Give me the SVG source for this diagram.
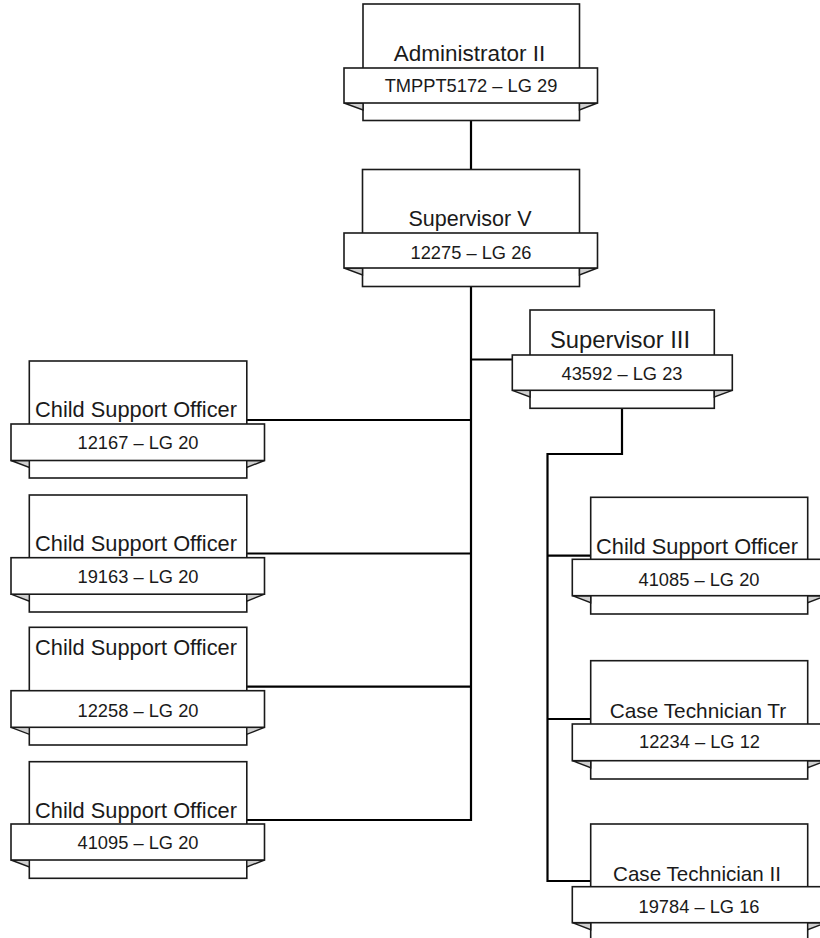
<svg xmlns="http://www.w3.org/2000/svg" width="820" height="938" viewBox="0 0 820 938">
<style>
.bg{fill:#ffffff}
.box{fill:#ffffff;stroke:#1a1a1a;stroke-width:1.6}
.ban{fill:#ffffff;stroke:#1a1a1a;stroke-width:1.6}
.fold{fill:#d0d0d0;stroke:#1a1a1a;stroke-width:1.4;stroke-linejoin:miter}
.t{font-family:"Liberation Sans",Arial,sans-serif;font-size:21.8px;fill:#1a1a1a;text-anchor:middle}
.s{font-family:"Liberation Sans",Arial,sans-serif;font-size:18.3px;fill:#1a1a1a;text-anchor:middle}
.c{fill:none;stroke:#000000;stroke-width:2.2}
</style>
<rect class="bg" x="0" y="0" width="820" height="938"/>
<g id="connectors">
<path class="c" d="M471,120.5 V169.5"/>
<path class="c" d="M471,286.7 V821"/>
<path class="c" d="M471,359.5 H512.3"/>
<path class="c" d="M471,420 H246.8"/>
<path class="c" d="M471,553.5 H246.8"/>
<path class="c" d="M471,686.7 H246.8"/>
<path class="c" d="M471,820 H246.8"/>
<path class="c" d="M622,408.3 V454 H547.5 V882"/>
<path class="c" d="M547.5,555.7 H590.7"/>
<path class="c" d="M547.5,719 H590.7"/>
<path class="c" d="M547.5,881 H590.7"/>
</g>
<g id="n-admin">
<rect class="box" x="363" y="4" width="216.5" height="116.5"/>
<path class="fold" d="M344,103 L363,103 L363,110 Z"/>
<path class="fold" d="M597.5,103 L579.5,103 L579.5,110 Z"/>
<rect class="ban" x="344" y="68" width="253.5" height="35"/>
<text class="t" x="469.5" y="61" style="font-size:22.5px">Administrator II</text>
<text class="s" x="471" y="91.5">TMPPT5172 – LG 29</text>
</g>
<g id="n-supv">
<rect class="box" x="362.5" y="169.5" width="217" height="117"/>
<path class="fold" d="M344,268 L362.5,268 L362.5,275 Z"/>
<path class="fold" d="M597.5,268 L579.5,268 L579.5,275 Z"/>
<rect class="ban" x="344" y="233" width="253.5" height="35"/>
<text class="t" x="470" y="226" style="font-size:21.5px">Supervisor V</text>
<text class="s" x="471" y="258.5">12275 – LG 26</text>
</g>
<g id="n-supiii">
<rect class="box" x="530" y="310" width="184.3" height="98.3"/>
<path class="fold" d="M512.3,390.3 L530,390.3 L530,397 Z"/>
<path class="fold" d="M732.3,390.3 L714.3,390.3 L714.3,397 Z"/>
<rect class="ban" x="512.3" y="355" width="220" height="35.3"/>
<text class="t" x="620" y="348" style="font-size:23.8px">Supervisor III</text>
<text class="s" x="622" y="379.5">43592 – LG 23</text>
</g>
<g id="n-cso1">
<rect class="box" x="29.3" y="361" width="217.5" height="117"/>
<path class="fold" d="M11,460.5 L29.3,460.5 L29.3,467.5 Z"/>
<path class="fold" d="M264.5,460.5 L246.8,460.5 L246.8,467.5 Z"/>
<rect class="ban" x="11" y="424" width="253.5" height="36.5"/>
<text class="t" x="136" y="417">Child Support Officer</text>
<text class="s" x="138" y="449.3">12167 – LG 20</text>
</g>
<g id="n-cso2">
<rect class="box" x="29.3" y="495" width="217.5" height="117"/>
<path class="fold" d="M11,594.2 L29.3,594.2 L29.3,601.2 Z"/>
<path class="fold" d="M264.5,594.2 L246.8,594.2 L246.8,601.2 Z"/>
<rect class="ban" x="11" y="557.7" width="253.5" height="36.5"/>
<text class="t" x="136" y="551">Child Support Officer</text>
<text class="s" x="138" y="583">19163 – LG 20</text>
</g>
<g id="n-cso3">
<rect class="box" x="29.3" y="627.3" width="217.5" height="117.7"/>
<path class="fold" d="M11,727.3 L29.3,727.3 L29.3,734.3 Z"/>
<path class="fold" d="M264.5,727.3 L246.8,727.3 L246.8,734.3 Z"/>
<rect class="ban" x="11" y="690.7" width="253.5" height="36.6"/>
<text class="t" x="136" y="655">Child Support Officer</text>
<text class="s" x="138" y="716.7">12258 – LG 20</text>
</g>
<g id="n-cso4">
<rect class="box" x="29.3" y="761.7" width="217.5" height="116.6"/>
<path class="fold" d="M11,860 L29.3,860 L29.3,867 Z"/>
<path class="fold" d="M264.5,860 L246.8,860 L246.8,867 Z"/>
<rect class="ban" x="11" y="824" width="253.5" height="36"/>
<text class="t" x="136" y="818.3">Child Support Officer</text>
<text class="s" x="138" y="849.3">41095 – LG 20</text>
</g>
<g id="n-cso5">
<rect class="box" x="590.7" y="497.3" width="217" height="116.7"/>
<path class="fold" d="M572.3,595.7 L590.7,595.7 L590.7,602.7 Z"/>
<path class="fold" d="M826.3,595.7 L807.7,595.7 L807.7,602.7 Z"/>
<rect class="ban" x="572.3" y="559.3" width="254" height="36.4"/>
<text class="t" x="697" y="554">Child Support Officer</text>
<text class="s" x="699" y="585.7">41085 – LG 20</text>
</g>
<g id="n-cttr">
<rect class="box" x="590.7" y="660.7" width="217" height="118.3"/>
<path class="fold" d="M572.3,760.7 L590.7,760.7 L590.7,767.7 Z"/>
<path class="fold" d="M826.3,760.7 L807.7,760.7 L807.7,767.7 Z"/>
<rect class="ban" x="572.3" y="724" width="254" height="36.7"/>
<text class="t" x="698" y="718.3" style="font-size:20.8px">Case Technician Tr</text>
<text class="s" x="699.5" y="748.3">12234 – LG 12</text>
</g>
<g id="n-ctii">
<rect class="box" x="590.7" y="824" width="217" height="117"/>
<path class="fold" d="M572.3,922.7 L590.7,922.7 L590.7,929.7 Z"/>
<path class="fold" d="M826.3,922.7 L807.7,922.7 L807.7,929.7 Z"/>
<rect class="ban" x="572.3" y="886.7" width="254" height="36"/>
<text class="t" x="697" y="881" style="font-size:20.6px">Case Technician II</text>
<text class="s" x="699" y="912.7">19784 – LG 16</text>
</g>
</svg>
